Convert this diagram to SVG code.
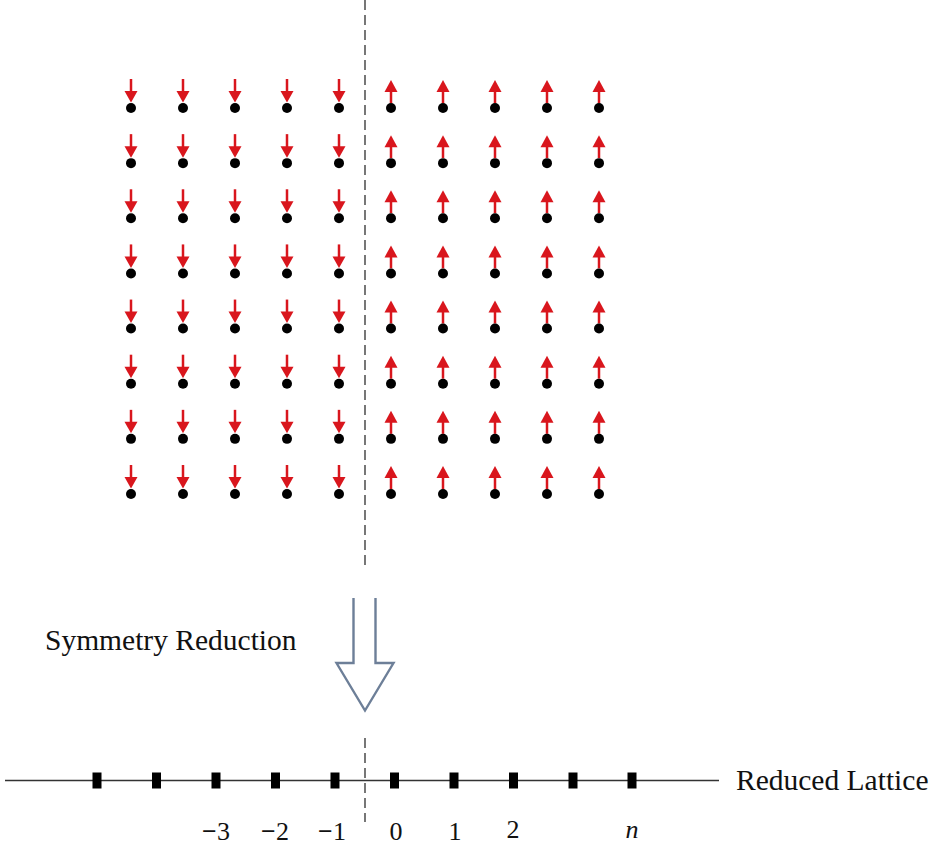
<svg xmlns="http://www.w3.org/2000/svg" xmlns:xlink="http://www.w3.org/1999/xlink" width="935" height="845" viewBox="0 0 935 845">
<style>
.dot{fill:#000}
.sh{stroke:#d9161d;stroke-width:2.5;fill:none}
.hd{fill:#d9161d}
.dash{stroke:#555;stroke-width:1.6;stroke-dasharray:10 5;fill:none}
.txt{font-family:"Liberation Serif","Times New Roman",serif;font-size:29.5px;fill:#111}
.lbl{font-family:"Liberation Serif","Times New Roman",serif;font-size:26px;fill:#111}
</style>
<defs>
<g id="dn"><line class="sh" x1="0" y1="79" x2="0" y2="92"/><polygon class="hd" points="-6.5,91 6.5,91 0,102.5"/><circle class="dot" cx="0" cy="108" r="5"/></g>
<g id="up"><polygon class="hd" points="-6.5,92 6.5,92 0,80"/><line class="sh" x1="0" y1="91" x2="0" y2="103"/><circle class="dot" cx="0" cy="108" r="5"/></g>
<g id="rowL"><use xlink:href="#dn" x="131"/><use xlink:href="#dn" x="183"/><use xlink:href="#dn" x="235"/><use xlink:href="#dn" x="287"/><use xlink:href="#dn" x="339"/></g>
<g id="rowR"><use xlink:href="#up" x="391"/><use xlink:href="#up" x="443"/><use xlink:href="#up" x="495"/><use xlink:href="#up" x="547"/><use xlink:href="#up" x="599"/></g>
<g id="row"><use xlink:href="#rowL"/><use xlink:href="#rowR"/></g>
<rect id="sq" x="-4.5" y="-8" width="9" height="16" fill="#000"/>
</defs>
<g id="lattice">
<use xlink:href="#row" y="0"/>
<use xlink:href="#row" y="55.14"/>
<use xlink:href="#row" y="110.28"/>
<use xlink:href="#row" y="165.42"/>
<use xlink:href="#row" y="220.56"/>
<use xlink:href="#row" y="275.7"/>
<use xlink:href="#row" y="330.84"/>
<use xlink:href="#row" y="385.98"/>
</g>
<g id="connectors">
<line class="dash" x1="365" y1="0" x2="365" y2="567"/>
<line class="dash" x1="365" y1="738" x2="365" y2="822"/>
<line x1="5" y1="780.5" x2="719" y2="780.5" stroke="#333" stroke-width="1.3"/>
</g>
<g id="reduction-arrow">
<path d="M353.5,598 V663 H336.5 L365,710.5 L393.5,663 H375.5 V598" fill="#fff" stroke="#6d7f98" stroke-width="2.4" stroke-linejoin="miter"/>
</g>
<g id="reduction-label"><text class="txt" x="45" y="650">Symmetry Reduction</text></g>
<g id="sites">
<use xlink:href="#sq" x="97" y="780.5"/>
<use xlink:href="#sq" x="156.5" y="780.5"/>
<use xlink:href="#sq" x="216" y="780.5"/>
<use xlink:href="#sq" x="275.5" y="780.5"/>
<use xlink:href="#sq" x="335" y="780.5"/>
<use xlink:href="#sq" x="394.5" y="780.5"/>
<use xlink:href="#sq" x="454" y="780.5"/>
<use xlink:href="#sq" x="513.5" y="780.5"/>
<use xlink:href="#sq" x="573" y="780.5"/>
<use xlink:href="#sq" x="632" y="780.5"/>
</g>
<g id="reduced-label"><text class="txt" x="736" y="790">Reduced Lattice</text></g>
<g id="indices" class="lbl" text-anchor="middle">
<text x="216" y="840"><tspan font-weight="bold">−</tspan>3</text>
<text x="275" y="840"><tspan font-weight="bold">−</tspan>2</text>
<text x="332" y="840"><tspan font-weight="bold">−</tspan>1</text>
<text x="396" y="840">0</text>
<text x="455" y="840">1</text>
<text x="513" y="838">2</text>
<text x="632" y="838" font-style="italic">n</text>
</g>
</svg>
